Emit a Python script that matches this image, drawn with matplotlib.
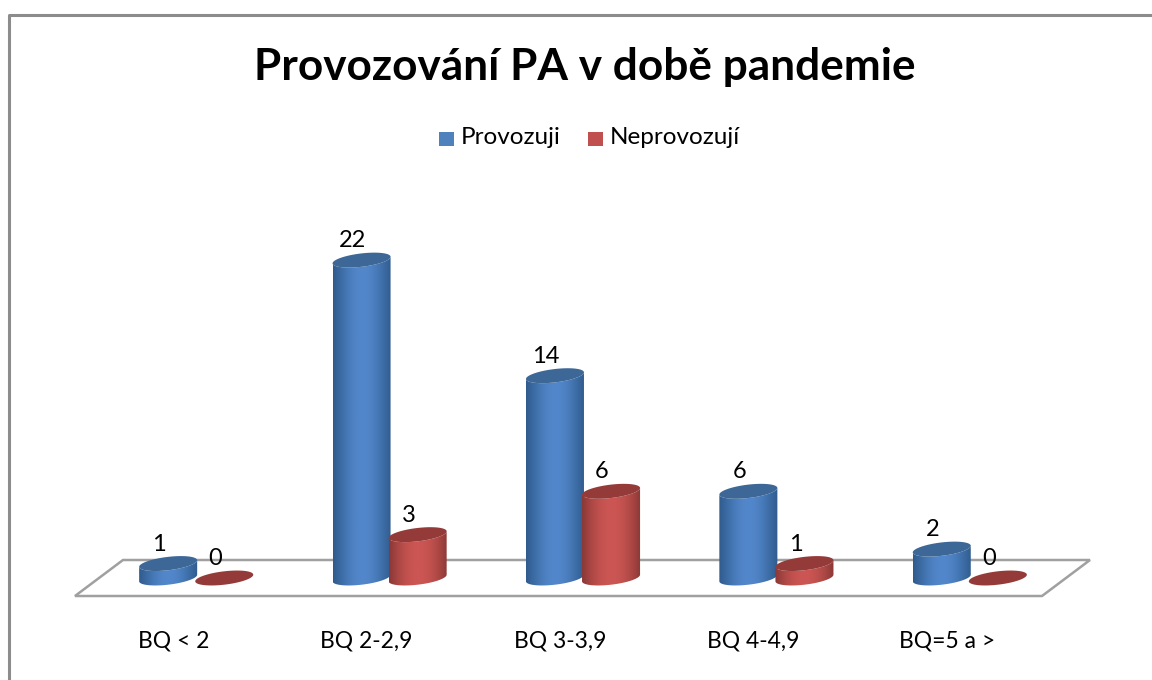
import numpy as np
import matplotlib
matplotlib.use("Agg")
import matplotlib.pyplot as plt
from matplotlib.path import Path
from matplotlib.patches import PathPatch, Polygon, Rectangle
from matplotlib.colors import LinearSegmentedColormap
from matplotlib.transforms import Affine2D

categories = ["BQ < 2", "BQ 2-2,9", "BQ 3-3,9", "BQ 4-4,9", "BQ=5 a >"]
provozuji = [1, 22, 14, 6, 2]
neprovozuji = [0, 3, 6, 1, 0]
title = "Provozování PA v době pandemie"
series_names = ["Provozuji", "Neprovozují"]

W, H = 1152, 680
plt.rcParams["font.family"] = ["Lato", "DejaVu Sans"]
fig = plt.figure(figsize=(W / 100, H / 100), dpi=100, facecolor="white")

# pixel-space transform (y down) for frame, floor and legend
px = Affine2D().scale(1, -1).translate(0, H)

PX_PER_UNIT = 14.45
left, right, base = 99.5, 1066.5, 578
top_px, bottom_px = 20, 610
ax = fig.add_axes([left / W, (H - bottom_px) / H, (right - left) / W, (bottom_px - top_px) / H])
ax.patch.set_alpha(0)
ax.axis("off")

width = 0.30
offset = 0.145
a = width / 2
b = 6.7 / PX_PER_UNIT
k = 3.3 / PX_PER_UNIT
t = np.linspace(0, 2 * np.pi, 121)


def ellipse_pts(cx, cy, tt):
    return np.column_stack([cx + a * np.cos(tt), cy + b * np.sin(tt) + k * np.cos(tt)])


def cylinder(cx, v, cmap, top_color, z):
    if v > 0:
        # body: lower half of the base ellipse, then up to the top ellipse
        lower = ellipse_pts(cx, 0, np.linspace(np.pi, 2 * np.pi, 60))
        upper = ellipse_pts(cx, v, np.linspace(2 * np.pi, np.pi, 60))
        verts = np.vstack([lower, upper, lower[:1]])
        patch = PathPatch(Path(verts), fc="none", ec="none", transform=ax.transData)
        ax.add_patch(patch)
        grad = np.sin(np.linspace(0, np.pi, 256))[None, :]
        im = ax.imshow(grad, cmap=cmap, aspect="auto", vmin=0, vmax=1,
                       extent=(cx - a, cx + a, -1, v + 1), zorder=z,
                       interpolation="bilinear")
        im.set_clip_path(patch)
    ax.add_patch(Polygon(ellipse_pts(cx, v, t), closed=True, fc=top_color, ec="none",
                         zorder=z + 0.001))


blue = LinearSegmentedColormap.from_list("b", ["#2f5a8c", "#3f6fa9", "#5287cb"])
red = LinearSegmentedColormap.from_list("r", ["#8a3836", "#ad4845", "#cc5653"])
BLUE_TOP, RED_TOP = "#3c6796", "#943b39"

# frame
frame = dict(color="#8c8c8c", lw=2.2, transform=px, solid_capstyle="butt", clip_on=False)
fig.add_artist(plt.Line2D([8.5, 8.5, W], [H, 15.2, 15.2], **frame))

# floor
floor = np.array([[75, 596], [123, 560], [1090, 560], [1042, 596]])
fig.add_artist(Polygon(floor, closed=True, fc="white", ec="#a0a0a0", lw=1.8, transform=px, zorder=-1))

for i, (p, n) in enumerate(zip(provozuji, neprovozuji)):
    xp, xn = i - offset, i + offset
    cylinder(xp, p, blue, BLUE_TOP, 2 + i * 0.01)
    cylinder(xn, n, red, RED_TOP, 2.005 + i * 0.01)
    ax.annotate(str(p), (xp, p), xytext=(-9, 9), textcoords="offset pixels",
                ha="center", va="bottom", fontsize=17, color="black", zorder=5)
    ax.annotate(str(n), (xn, n), xytext=(-9, 9), textcoords="offset pixels",
                ha="center", va="bottom", fontsize=17, color="black", zorder=5)
    ax.annotate(categories[i], (i, 0), xytext=(-23, -63), textcoords="offset pixels",
                ha="center", va="center", fontsize=16.5, color="black", annotation_clip=False)

ax.set_xlim(-0.5, 4.5)
ax.set_ylim(-(bottom_px - base) / PX_PER_UNIT, (base - top_px) / PX_PER_UNIT)

fig.text(584.5 / W, 1 - 67 / H, title, ha="center", va="center", fontsize=31.8,
         fontweight="bold", color="black")

# legend
for x0, col, name in [(439, "#4f81bd", series_names[0]), (588, "#c0504d", series_names[1])]:
    fig.add_artist(Rectangle((x0, 132), 15, 14, fc=col, ec="none", transform=px))
    fig.text((x0 + 22) / W, 1 - 138 / H, name, ha="left", va="center", fontsize=17.5, color="black")

fig.savefig("out.png", dpi=100, facecolor="white")
